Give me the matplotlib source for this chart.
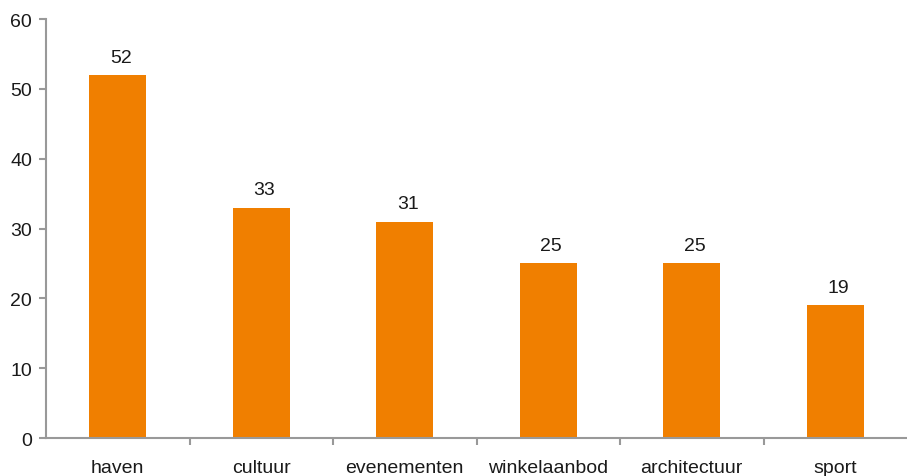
import matplotlib.pyplot as plt
from matplotlib import font_manager

categories = ["haven", "cultuur", "evenementen", "winkelaanbod", "architectuur", "sport"]
values = [52, 33, 31, 25, 25, 19]
yticks = [0, 10, 20, 30, 40, 50, 60]

names = {f.name for f in font_manager.fontManager.ttflist}
family = ["Liberation Sans Narrow", "DejaVu Sans"] if "Liberation Sans Narrow" in names else ["Liberation Sans", "DejaVu Sans"]
plt.rcParams["font.family"] = family

fig = plt.figure(figsize=(9.07, 4.77), dpi=100)
ax = fig.add_axes([46 / 907, 1 - 439 / 477, 861 / 907, 419 / 477])

x = list(range(len(categories)))
ax.bar(x, values, width=0.4, color="#F07F00", zorder=2)
for xi, v in zip(x, values):
    ax.text(xi + 0.02, v + 1.3, str(v), ha="center", va="bottom", fontsize=14, color="#1a1a1a")

ax.set_xlim(-0.5, len(categories) - 0.5)
ax.set_ylim(0, 60)
ax.set_yticks(yticks)
ax.set_yticklabels([str(t) for t in yticks], fontsize=14, color="#1a1a1a")
ax.set_xticks([i + 0.5 for i in range(len(categories) - 1)])
ax.set_xticklabels([])
ax.set_xticks(x, minor=True)
ax.set_xticklabels(categories, minor=True, fontsize=14, color="#1a1a1a")
ax.tick_params(axis="x", which="minor", length=0, pad=15)
ax.tick_params(axis="x", which="major", length=5, color="#999999", width=1.5)
ax.tick_params(axis="y", length=5, color="#999999", width=1.5, pad=5)

for s in ["top", "right"]:
    ax.spines[s].set_visible(False)
for s in ["left", "bottom"]:
    ax.spines[s].set_color("#999999")
    ax.spines[s].set_linewidth(1.5)

fig.savefig("out.png", dpi=100)
